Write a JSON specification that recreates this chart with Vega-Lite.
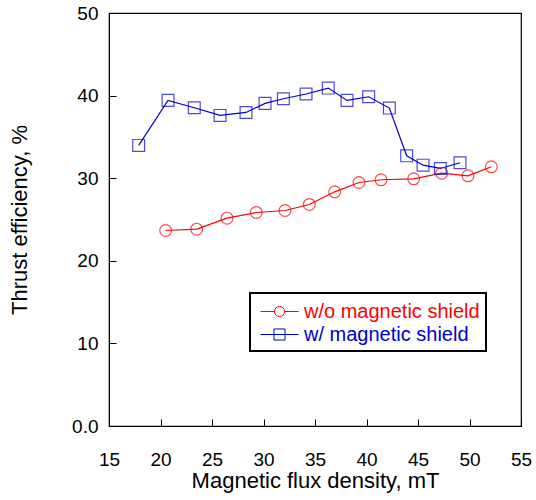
{
  "$schema": "https://vega.github.io/schema/vega-lite/v6.json",
  "width": 412,
  "height": 413,
  "autosize": {"type": "none"},
  "padding": {"left": 109, "top": 13, "right": 15, "bottom": 74},
  "background": "white",
  "config": {
    "font": "Liberation Sans",
    "view": {"stroke": "black", "strokeWidth": 1.2},
    "axis": {
      "grid": false,
      "domainColor": "black",
      "tickColor": "black",
      "labelColor": "black",
      "titleColor": "black",
      "labelFont": "Liberation Sans",
      "titleFont": "Liberation Sans",
      "labelFontSize": 19,
      "titleFontSize": 22,
      "titleFontWeight": "normal",
      "labelFlush": false,
      "labelOverlap": false
    }
  },
  "data": {
    "values": [
      {"B": 17.88, "eff": 33.97, "series": "w/ magnetic shield"},
      {"B": 20.73, "eff": 39.42, "series": "w/ magnetic shield"},
      {"B": 23.28, "eff": 38.53, "series": "w/ magnetic shield"},
      {"B": 25.78, "eff": 37.6, "series": "w/ magnetic shield"},
      {"B": 28.3, "eff": 37.96, "series": "w/ magnetic shield"},
      {"B": 30.15, "eff": 39.06, "series": "w/ magnetic shield"},
      {"B": 31.93, "eff": 39.62, "series": "w/ magnetic shield"},
      {"B": 34.13, "eff": 40.19, "series": "w/ magnetic shield"},
      {"B": 36.29, "eff": 40.91, "series": "w/ magnetic shield"},
      {"B": 38.11, "eff": 39.42, "series": "w/ magnetic shield"},
      {"B": 40.21, "eff": 39.86, "series": "w/ magnetic shield"},
      {"B": 42.22, "eff": 38.49, "series": "w/ magnetic shield"},
      {"B": 43.9, "eff": 32.71, "series": "w/ magnetic shield"},
      {"B": 45.49, "eff": 31.58, "series": "w/ magnetic shield"},
      {"B": 47.17, "eff": 31.18, "series": "w/ magnetic shield"},
      {"B": 49.08, "eff": 31.87, "series": "w/ magnetic shield"},
      {"B": 20.5, "eff": 23.67, "series": "w/o magnetic shield"},
      {"B": 23.51, "eff": 23.83, "series": "w/o magnetic shield"},
      {"B": 26.46, "eff": 25.16, "series": "w/o magnetic shield"},
      {"B": 29.3, "eff": 25.85, "series": "w/o magnetic shield"},
      {"B": 32.09, "eff": 26.09, "series": "w/o magnetic shield"},
      {"B": 34.45, "eff": 26.82, "series": "w/o magnetic shield"},
      {"B": 36.91, "eff": 28.35, "series": "w/o magnetic shield"},
      {"B": 39.27, "eff": 29.48, "series": "w/o magnetic shield"},
      {"B": 41.41, "eff": 29.81, "series": "w/o magnetic shield"},
      {"B": 44.58, "eff": 29.93, "series": "w/o magnetic shield"},
      {"B": 47.3, "eff": 30.61, "series": "w/o magnetic shield"},
      {"B": 49.85, "eff": 30.29, "series": "w/o magnetic shield"},
      {"B": 52.12, "eff": 31.38, "series": "w/o magnetic shield"}
    ]
  },
  "encoding": {
    "x": {
      "field": "B", "type": "quantitative",
      "scale": {"domain": [15, 55], "nice": false, "zero": false},
      "axis": {"values": [15, 20, 25, 30, 35, 40, 45, 50, 55], "tickSize": -7, "labelPadding": 31, "title": "Magnetic flux density, mT", "titlePadding": 1}
    },
    "y": {
      "field": "eff", "type": "quantitative",
      "scale": {"domain": [0, 50], "nice": false},
      "axis": {"values": [0, 10, 20, 30, 40, 50], "tickSize": -7, "labelPadding": 18, "title": "Thrust efficiency, %", "titlePadding": 40, "labelExpr": "datum.value == 0 ? '0.0' : datum.label"}
    },
    "color": {
      "field": "series", "type": "nominal",
      "scale": {"domain": ["w/o magnetic shield", "w/ magnetic shield"], "range": ["#ff0000", "#0000cc"]},
      "legend": {
        "title": null,
        "orient": "none",
        "legendX": 141,
        "legendY": 280,
        "strokeColor": "black",
        "fillColor": "white",
        "padding": 6,
        "labelFontSize": 20,
        "labelFont": "Liberation Sans",
        "labelLimit": 400,
        "symbolSize": 576,
        "symbolOffset": 11,
        "symbolStrokeWidth": 1,
        "symbolFillColor": "transparent",
        "rowPadding": 0,
        "labelOffset": 12,
        "encode": {
          "legend": {"update": {"strokeWidth": {"value": 2}}},
          "labels": {"update": {"fill": {"signal": "datum.value == 'w/o magnetic shield' ? '#ff0000' : '#0000cc'"}}},
          "symbols": {"update": {
            "shape": {"signal": "datum.value == 'w/o magnetic shield' ? 'M-1.58,0H-0.42 A0.42,0.42 0 1,1 0.42,0 A0.42,0.42 0 1,1 -0.42,0 M0.42,0H1.58' : 'M-1.58,0H1.58 M-0.46,-0.46H0.46V0.46H-0.46Z'"},
            "fill": {"value": "transparent"}
          }}
        }
      }
    }
  },
  "layer": [
    {"mark": {"type": "line", "strokeWidth": 1.2}},
    {
      "transform": [{"filter": "datum.series == 'w/o magnetic shield'"}],
      "mark": {"type": "point", "shape": "circle", "filled": false, "strokeWidth": 1.2, "size": 140}
    },
    {
      "transform": [{"filter": "datum.series == 'w/ magnetic shield'"}],
      "mark": {"type": "point", "shape": "square", "filled": false, "strokeWidth": 1.2, "size": 140}
    }
  ]
}
